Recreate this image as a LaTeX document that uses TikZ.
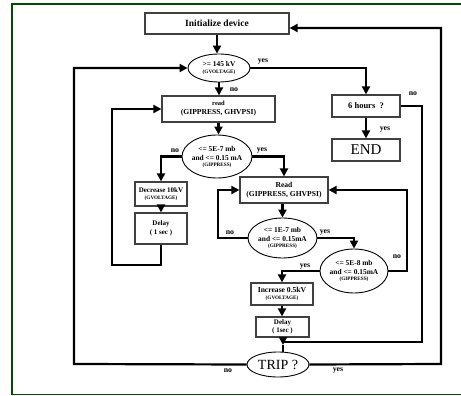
\documentclass[tikz,border=0pt]{standalone}
\usepackage{fontspec}
\setmainfont{Liberation Serif}
\usetikzlibrary{arrows.meta,shapes.geometric}
\newcommand{\tinyt}[1]{{\fontsize{5.2}{6}\selectfont #1}}
\begin{document}
\begin{tikzpicture}[x=1pt,y=-1pt,
  box/.style={draw=black!75,line width=1.2pt,rectangle,inner sep=0pt,align=center,
    font=\bfseries\fontsize{7.6}{9}\selectfont},
  oval/.style={draw,line width=0.9pt,ellipse,inner sep=0pt},
  txt/.style={inner sep=0pt,align=center,font=\bfseries\fontsize{7.4}{9}\selectfont},
  conn/.style={line width=2.2pt},
  arr/.style={conn,-{Triangle[length=8pt,width=8pt]}},
  lbl/.style={inner sep=0pt,font=\bfseries\fontsize{7.8}{8}\selectfont},
  frame/.style={draw=green!30!black,line width=1.6pt}]
\useasboundingbox (0,0) rectangle (461,396);
% frame
\draw[frame] (461,4) -- (12,4) -- (12,394.5) -- (461,394.5);
% nodes
\node[box,minimum width=144,minimum height=21,font=\bfseries\fontsize{9.5}{10}\selectfont] (init) at (217,23.5) {Initialize device};
\node[oval,minimum width=62,minimum height=28] (v145) at (219,68) {};
\node[txt] at (219,68) {>= 145 kV\\[-1.5pt]\tinyt{(GVOLTAGE)}};
\node[box,minimum width=113,minimum height=26] (read1) at (218.5,109) {{\fontsize{6.5}{7}\selectfont read}\\(GIPPRESS, GHVPSI)};
\node[box,minimum width=68,minimum height=22,font=\bfseries\fontsize{8.5}{9}\selectfont] (hours) at (366,106) {6 hours\ \ ?};
\node[box,minimum width=68,minimum height=22,font=\fontsize{15}{16}\selectfont] (endn) at (366,150) {END};
\node[oval,minimum width=70,minimum height=43] (p1) at (217,156.5) {};
\node[txt] at (217,157) {<= 5E-7 mb\\and <= 0.15 mA\\[-3pt]\tinyt{(GIPPRESS)}};
\node[box,minimum width=52,minimum height=24,font=\bfseries\fontsize{7}{8.5}\selectfont] (dec) at (161,194) {Decrease 10kV\\[-1pt]\tinyt{(GVOLTAGE)}};
\node[box,minimum width=52,minimum height=31,font=\bfseries\fontsize{7}{9.5}\selectfont] (delay1) at (161,228.5) {Delay\\( 1 sec )};
\node[box,minimum width=88,minimum height=26] (read2) at (284,190) {Read\\(GIPPRESS, GHVPSI)};
\node[oval,minimum width=69,minimum height=40] (p2) at (282.5,238) {};
\node[txt] at (282.5,238) {<= 1E-7 mb\\and <= 0.15mA\\[-3pt]\tinyt{(GIPPRESS)}};
\node[oval,minimum width=68,minimum height=44] (p3) at (354,271) {};
\node[txt] at (354,271) {<= 5E-8 mb\\and <= 0.15mA\\[-3pt]\tinyt{(GIPPRESS)}};
\node[box,minimum width=62,minimum height=22] (inc) at (282,294) {Increase 0.5kV\\[-1.5pt]\tinyt{(GVOLTAGE)}};
\node[box,minimum width=53,minimum height=20,font=\bfseries\fontsize{7}{8}\selectfont] (delay2) at (282.5,327) {Delay\\( 1sec )};
\node[oval,minimum width=62,minimum height=25,font=\fontsize{14}{15}\selectfont] (trip) at (278,364.5) {TRIP ?};
% corner coordinates
\coordinate (lA) at (112,265);
\coordinate (lB) at (218,238);
\coordinate (lC) at (407,271);
\coordinate (lD) at (74,364);
\coordinate (rA) at (422,342);
\coordinate (rB) at (441,364);
\coordinate (rC) at (441,28);
\coordinate (tA) at (283,345);
% connectors
\draw[arr] (init.south) -- (init.south |- v145.north);
\draw[arr] (v145.south) -- (v145.south |- read1.north);
\draw[arr] (v145.east) -| (hours.north);
\draw[arr] (hours.south) -- (endn.north);
\draw[conn] (hours.east) -| (rA) -- (rA -| tA);
\draw[arr] (read1.south) -- (read1.south |- p1.north);
\draw[arr] (p1.west) -| (dec.north);
\draw[arr] (p1.east) -| (read2.north);
\draw[arr] (dec.south) -- (delay1.north);
\draw[arr] (delay1.south) |- (lA) |- (read1.west);
\draw[arr] (read2.south -| p2.north) -- (p2.north);
\draw[arr] (p2.west) -- (lB) |- (read2.west);
\draw[arr] (p2.east) -| (p3.north);
\draw[arr] (p3.east) -- (lC) |- (read2.east);
\draw[arr] (p3.west) -| (inc.north);
\draw[arr] (inc.south) -- (inc.south |- delay2.north);
\draw[arr] (delay2.south -| tA) -- (tA);
\draw[conn] (tA) -- (tA |- trip.north);
\draw[arr] (trip.west) -- (lD) |- (v145.west);
\draw[arr] (trip.east) -- (rB) -- (rC) -- (rC -| init.east);
% labels
\node[lbl] at (263,62) {yes};
\node[lbl] at (234,90) {no};
\node[lbl] at (413,94) {no};
\node[lbl] at (385,130) {yes};
\node[lbl] at (175,151) {no};
\node[lbl] at (262,151) {yes};
\node[lbl] at (230,233) {no};
\node[lbl] at (325,233) {yes};
\node[lbl] at (397,257) {no};
\node[lbl] at (305,267) {yes};
\node[lbl] at (228,371) {no};
\node[lbl] at (338,371) {yes};
\end{tikzpicture}
\end{document}
